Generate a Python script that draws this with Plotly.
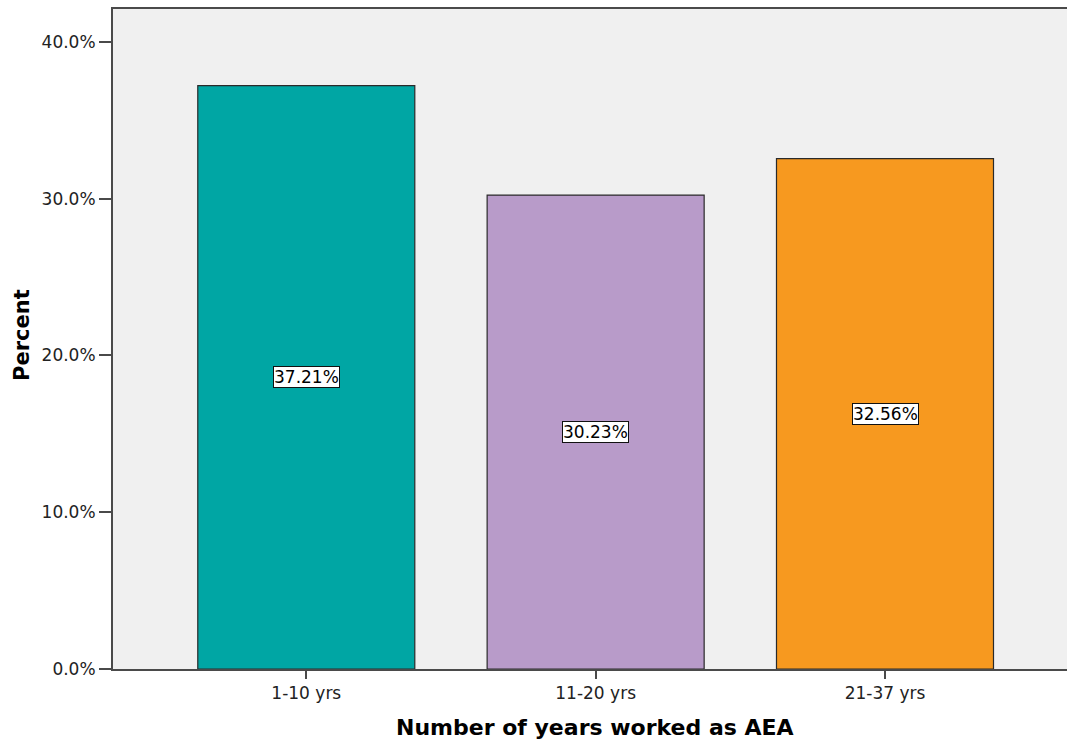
import plotly.graph_objects as go

categories = ["1-10 yrs", "11-20 yrs", "21-37 yrs"]
percent_values = [37.21, 30.23, 32.56]
bar_colors = ["#00A6A4", "#B89BC9", "#F7991F"]
y_tick_values = [0, 10, 20, 30, 40]
y_tick_labels = ["0.0%", "10.0%", "20.0%", "30.0%", "40.0%"]

axis_col = "#4a4a4a"

fig = go.Figure()
fig.add_trace(go.Bar(
    x=categories,
    y=percent_values,
    marker=dict(color=bar_colors, line=dict(color="#2a2a2a", width=1.2)),
    width=0.75,
    hoverinfo="skip",
))

for c, v in zip(categories, percent_values):
    fig.add_annotation(
        x=c, y=v / 2, xref="x", yref="y",
        text=f"{v:.2f}%", showarrow=False,
        font=dict(family="DejaVu Sans", size=17, color="#000"),
        bgcolor="white", bordercolor="#111", borderwidth=1, borderpad=0,
    )

fig.add_annotation(
    x=595, y=727, xref="paper", yref="paper", text="<b>Number of years worked as AEA</b>",
    showarrow=False, font=dict(family="DejaVu Sans", size=22, color="#000"),
)
fig.add_annotation(
    x=22, y=335, xref="paper", yref="paper", text="<b>Percent</b>", textangle=-90,
    showarrow=False, font=dict(family="DejaVu Sans", size=21, color="#000"),
)

# convert pixel positions to paper coords for title annotations
W, H = 1067, 742
L, R, T, B = 113, 0, 9, 73
pw, ph = W - L - R, H - T - B
for a in fig.layout.annotations:
    if a.xref == "paper":
        a.x = (a.x - L) / pw
        a.y = (H - B - a.y) / ph
        a.xanchor = "center"
        a.yanchor = "middle"

fig.update_layout(
    width=W, height=H,
    margin=dict(l=L, r=R, t=T, b=B, pad=0),
    paper_bgcolor="white",
    plot_bgcolor="#F0F0F0",
    showlegend=False,
    font=dict(family="DejaVu Sans", size=17, color="#222"),
    xaxis=dict(
        type="category",
        range=[-0.668, 2.629],
        showline=True, linecolor=axis_col, linewidth=2, mirror=True,
        ticks="outside", ticklen=8, tickwidth=2, tickcolor=axis_col,
        showgrid=False, zeroline=False,
        tickfont=dict(family="DejaVu Sans", size=17, color="#222"),
    ),
    yaxis=dict(
        range=[0, 42.1],
        tickvals=y_tick_values, ticktext=y_tick_labels,
        showline=True, linecolor=axis_col, linewidth=2, mirror=False,
        ticks="outside", ticklen=12, tickwidth=2, tickcolor=axis_col,
        showgrid=False, zeroline=False,
        tickfont=dict(family="DejaVu Sans", size=17, color="#222"),
    ),
)

fig.write_html(
    "out.html",
    config={"displayModeBar": False},
    post_script="document.body.style.margin='0';document.body.style.overflow='hidden';",
)
